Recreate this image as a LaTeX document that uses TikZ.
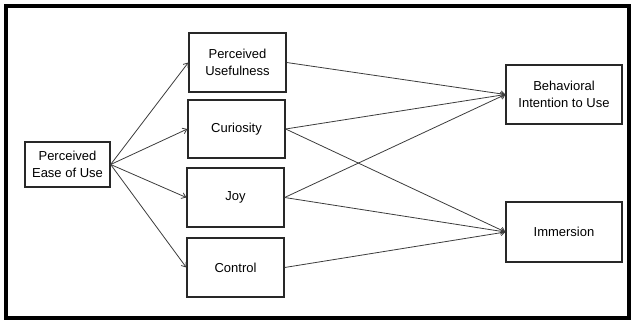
\documentclass[tikz,border=0pt]{standalone}
\usepackage{fontspec}
\setmainfont{Liberation Sans}
\usepackage{xcolor}
\usetikzlibrary{arrows.meta}
\definecolor{boxgray}{RGB}{40, 40, 40}
\definecolor{linegray}{RGB}{60, 60, 60}

\begin{document}
\begin{tikzpicture}[x=1pt,y=-1pt,
    box/.style={draw=boxgray,line width=1.3pt,align=center,inner sep=2pt,
        font=\fontsize{13}{17}\selectfont},
    path/.style={draw=linegray,line width=0.8pt,-{Straight Barb[length=4pt,width=6pt]}}]
        \useasboundingbox (0,0) rectangle (631,320);
        \draw[line width=4pt] (6,6) rectangle (629,317.5);

        \node[box,minimum width=85pt,minimum height=45pt] (ease) at (67.5,164.5) {Perceived\\Ease of Use};
        \node[box,minimum width=97pt,minimum height=59pt] (useful) at (237.5,62.5) {Perceived\\Usefulness};
        \node[box,minimum width=97pt,minimum height=58pt] (curio) at (236.5,129) {Curiosity};
        \node[box,minimum width=97pt,minimum height=59pt] (joy) at (235.5,197.5) {Joy};
        \node[box,minimum width=97pt,minimum height=59pt] (control) at (235.5,267.5) {Control};
        \node[box,minimum width=116pt,minimum height=59pt] (behav) at (564,94.5) {Behavioral\\Intention to Use};
        \node[box,minimum width=116pt,minimum height=60pt] (immer) at (564,232) {Immersion};

        \foreach \t in {useful,curio,joy,control}
            \draw[path] (ease.east) -- (\t.west);
        \foreach \s in {useful,curio,joy}
            \draw[path] (\s.east) -- (behav.west);
        \foreach \s in {curio,joy,control}
            \draw[path] (\s.east) -- (immer.west);
    \end{tikzpicture}
\end{document}
